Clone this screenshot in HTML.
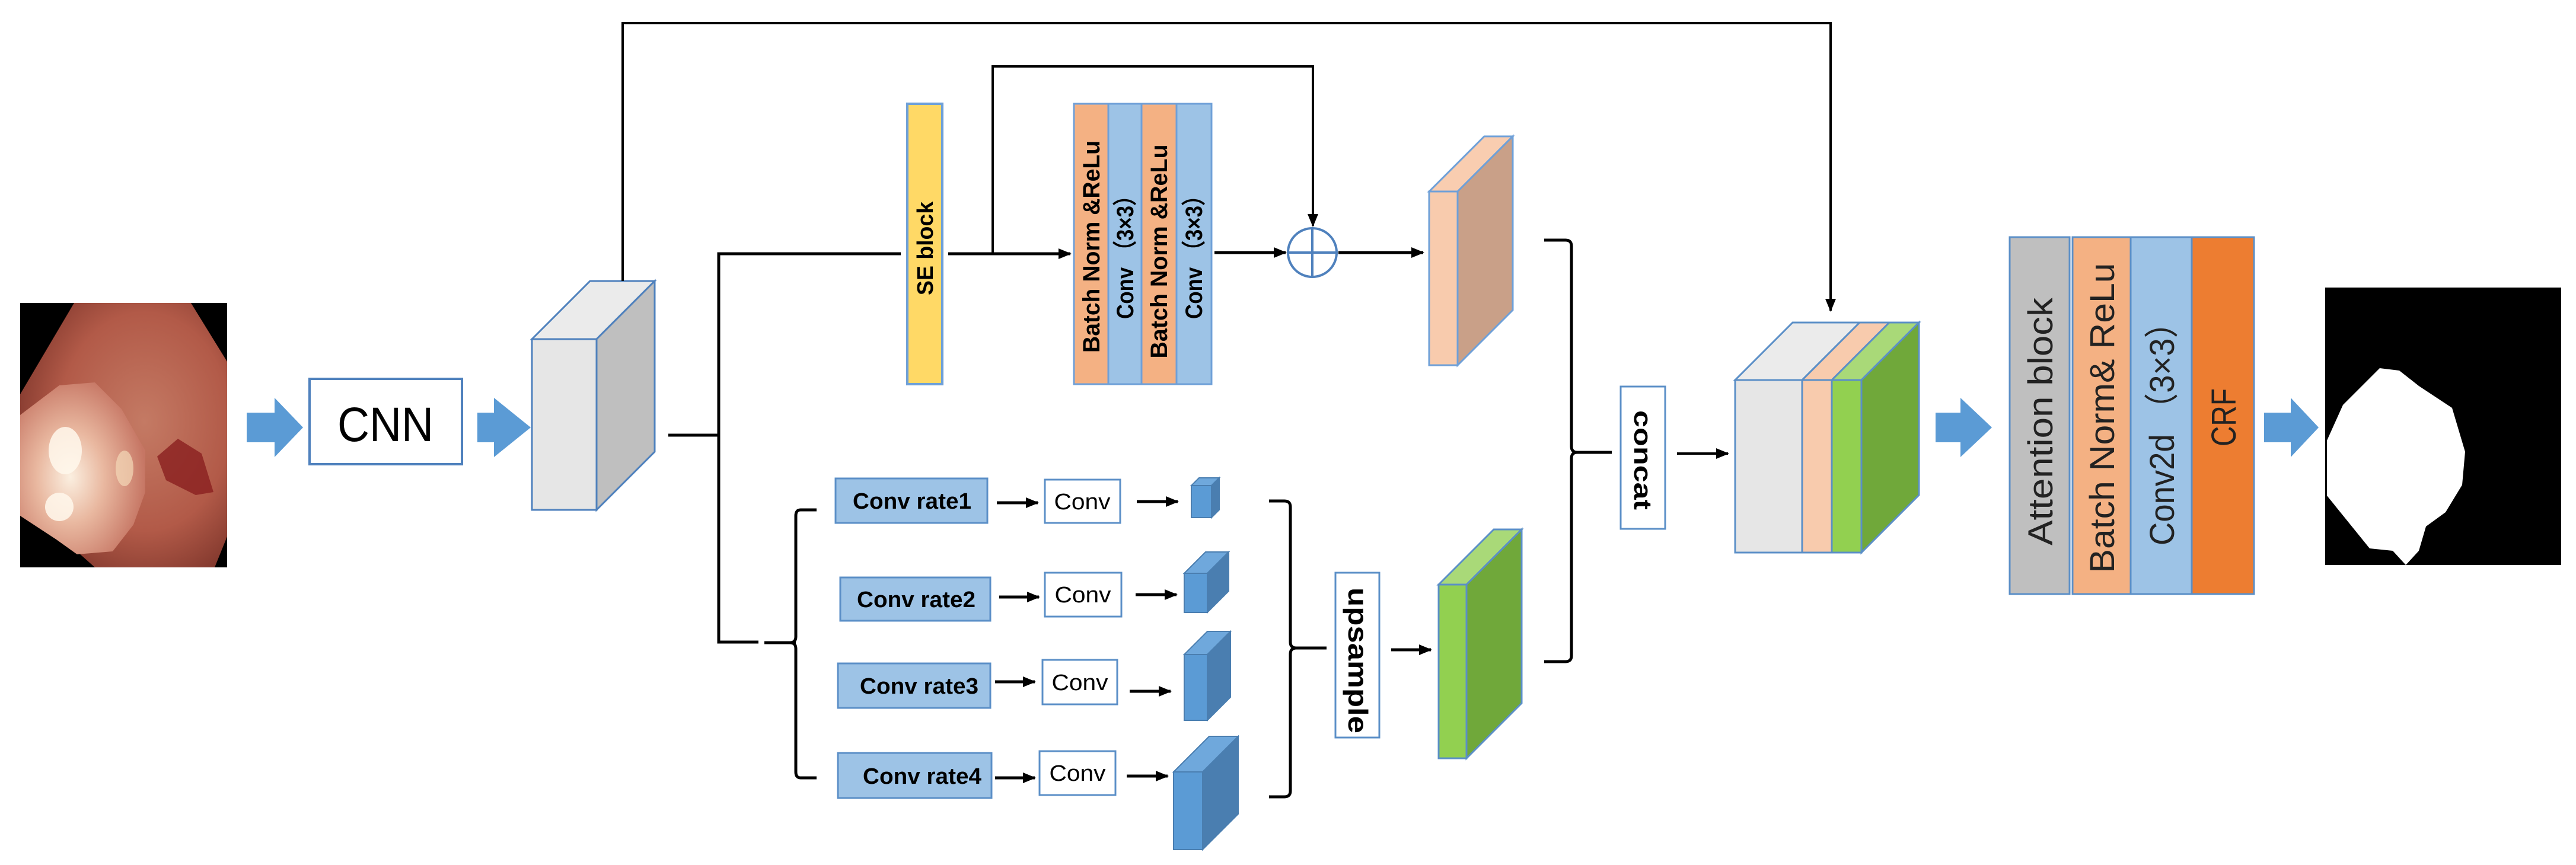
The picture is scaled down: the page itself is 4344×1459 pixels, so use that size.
<!DOCTYPE html>
<html><head><meta charset="utf-8">
<style>
html,body{margin:0;padding:0;background:#fff;}
svg{display:block;}
text{font-family:"Liberation Sans",sans-serif;}
</style></head>
<body>
<svg width="4344" height="1459" viewBox="0 0 4344 1459" xmlns="http://www.w3.org/2000/svg">
<defs>
<marker id="ah2" markerWidth="22" markerHeight="18" refX="20" refY="9" orient="auto" markerUnits="userSpaceOnUse">
<path d="M0,0 L22,9 L0,18 z" fill="#000"/>
</marker>
<radialGradient id="tis" cx="0.6" cy="0.45" r="0.75">
<stop offset="0" stop-color="#c47a64"/><stop offset="0.55" stop-color="#b25a48"/><stop offset="1" stop-color="#6e2a22"/>
</radialGradient>
<radialGradient id="pol" cx="0.4" cy="0.55" r="0.6">
<stop offset="0" stop-color="#fbefe0"/><stop offset="0.45" stop-color="#e9b8a0"/><stop offset="1" stop-color="#c67664"/>
</radialGradient>
</defs>

<!-- photo -->
<rect x="34" y="511" width="349" height="446" fill="#000"/>
<polygon points="125,511 322,511 383,610 383,905 362,957 160,957 34,845 34,665" fill="url(#tis)"/>
<polygon points="34,700 100,650 160,645 205,690 245,760 245,830 225,885 190,930 130,935 95,910 34,870" fill="url(#pol)"/>
<ellipse cx="110" cy="760" rx="28" ry="40" fill="#fff8ec" opacity="0.85"/>
<ellipse cx="100" cy="855" rx="24" ry="24" fill="#fff8ec" opacity="0.85"/>
<ellipse cx="210" cy="790" rx="15" ry="30" fill="#f3d9b8" opacity="0.7"/>
<path d="M265,770 L300,740 L340,765 L360,830 L330,835 L300,820 L280,810 Z" fill="#8a1f1f" opacity="0.8"/>

<!-- blue arrow 1 -->
<polygon points="416,696 463,696 463,671 511,721 463,771 463,746 416,746" fill="#5b9bd5"/>
<rect x="522" y="639" width="257" height="144" fill="#fff" stroke="#4f81bd" stroke-width="4"/>
<text x="650" y="744" font-size="82" text-anchor="middle" textLength="162" lengthAdjust="spacingAndGlyphs">CNN</text>
<polygon points="805,696 833,696 833,671 895,721 833,771 833,746 805,746" fill="#5b9bd5"/>

<!-- cube1 -->
<g stroke="#4f81bd" stroke-width="3">
<polygon points="897,572 995,474 1104,474 1006,572" fill="#ebebeb"/>
<polygon points="1006,572 1104,474 1104,762 1006,860" fill="#bfbfbf"/>
<rect x="897" y="572" width="109" height="288" fill="#e6e6e6"/>
</g>

<!-- black connectors -->
<g stroke="#000" stroke-width="5" fill="none">
<polyline points="1050,474 1050,39 3087,39 3087,524" stroke-width="4" marker-end="url(#ah2)"/>
<polyline points="1127,734 1212,734"/>
<polyline points="1519,428 1212,428 1212,1083 1279,1083"/>
<polyline points="1289,1084 1342,1084"/>
<path d="M1377,860 L1350,860 Q1342,860 1342,870 L1342,1074 Q1342,1084 1332,1084 Q1342,1084 1342,1094 L1342,1302 Q1342,1312 1350,1312 L1377,1312"/>
<line x1="1599" y1="428" x2="1805" y2="428" marker-end="url(#ah2)"/>
<polyline points="1674,428 1674,112 2214,112 2214,381" stroke-width="4" marker-end="url(#ah2)"/>
<line x1="2048" y1="426" x2="2168" y2="426" marker-end="url(#ah2)"/>
<line x1="2257" y1="426" x2="2400" y2="426" marker-end="url(#ah2)"/>
<path d="M2604,405 L2640,405 Q2650,405 2650,415 L2650,753 Q2650,763 2660,763 L2718,763 M2660,763 Q2650,763 2650,773 L2650,1106 Q2650,1116 2640,1116 L2604,1116"/>
<path d="M2140,845 L2166,845 Q2176,845 2176,855 L2176,1083 Q2176,1093 2186,1093 L2237,1093 M2186,1093 Q2176,1093 2176,1103 L2176,1334 Q2176,1344 2166,1344 L2140,1344"/>
<line x1="2828" y1="765" x2="2914" y2="765" stroke-width="4" marker-end="url(#ah2)"/>
<line x1="2346" y1="1096" x2="2413" y2="1096" marker-end="url(#ah2)"/>
<line x1="1681" y1="848" x2="1750" y2="848" marker-end="url(#ah2)"/>
<line x1="1685" y1="1007" x2="1752" y2="1007" marker-end="url(#ah2)"/>
<line x1="1678" y1="1150" x2="1745" y2="1150" marker-end="url(#ah2)"/>
<line x1="1678" y1="1312" x2="1745" y2="1312" marker-end="url(#ah2)"/>
<line x1="1917" y1="846" x2="1986" y2="846" marker-end="url(#ah2)"/>
<line x1="1915" y1="1003" x2="1984" y2="1003" marker-end="url(#ah2)"/>
<line x1="1905" y1="1166" x2="1974" y2="1166" marker-end="url(#ah2)"/>
<line x1="1900" y1="1309" x2="1969" y2="1309" marker-end="url(#ah2)"/>
</g>

<circle cx="2213" cy="426" r="41" fill="#fff" stroke="#4f81bd" stroke-width="4"/>
<line x1="2172" y1="426" x2="2254" y2="426" stroke="#4f81bd" stroke-width="4"/>
<line x1="2213" y1="385" x2="2213" y2="467" stroke="#4f81bd" stroke-width="4"/>

<rect x="1530" y="175" width="59" height="473" fill="#ffd966" stroke="#6fa0d8" stroke-width="4"/>
<text transform="translate(1573,419) rotate(-90)" font-size="38" font-weight="bold" text-anchor="middle" textLength="158" lengthAdjust="spacingAndGlyphs">SE block</text>

<g stroke="#6fa0d8" stroke-width="3">
<rect x="1811" y="175" width="58" height="473" fill="#f4b183"/>
<rect x="1869" y="175" width="56" height="473" fill="#9dc3e6"/>
<rect x="1925" y="175" width="59" height="473" fill="#f4b183"/>
<rect x="1984" y="175" width="59" height="473" fill="#9dc3e6"/>
</g>
<g font-size="40" font-weight="bold" text-anchor="middle">
<text transform="translate(1854,416) rotate(-90)" textLength="358" lengthAdjust="spacingAndGlyphs">Batch Norm &amp;ReLu</text>
<text transform="translate(1911,425) rotate(-90)" textLength="226" lengthAdjust="spacingAndGlyphs">Conv （3×3）</text>
<text transform="translate(1968,424) rotate(-90)" textLength="361" lengthAdjust="spacingAndGlyphs">Batch Norm &amp;ReLu</text>
<text transform="translate(2027,425) rotate(-90)" textLength="226" lengthAdjust="spacingAndGlyphs">Conv （3×3）</text>
</g>

<g stroke="#6fa0d8" stroke-width="3">
<polygon points="2410,323 2503,230 2551,230 2458,323" fill="#f9cdb0"/>
<polygon points="2458,323 2551,230 2551,523 2458,616" fill="#c9a088"/>
<rect x="2410" y="323" width="48" height="293" fill="#f8cbad"/>
</g>

<g fill="#9dc3e6" stroke="#5b8fc7" stroke-width="3">
<rect x="1409" y="807" width="256" height="75"/>
<rect x="1417" y="974" width="253" height="73"/>
<rect x="1413" y="1119" width="257" height="75"/>
<rect x="1413" y="1270" width="259" height="76"/>
</g>
<g fill="#fff" stroke="#5b8fc7" stroke-width="3">
<rect x="1762" y="809" width="127" height="73"/>
<rect x="1762" y="966" width="129" height="74"/>
<rect x="1758" y="1113" width="126" height="75"/>
<rect x="1753" y="1267" width="128" height="74"/>
</g>
<g font-size="38" font-weight="bold" text-anchor="middle">
<text x="1538" y="858" textLength="200" lengthAdjust="spacingAndGlyphs">Conv rate1</text>
<text x="1545" y="1024" textLength="200" lengthAdjust="spacingAndGlyphs">Conv rate2</text>
<text x="1550" y="1170" textLength="200" lengthAdjust="spacingAndGlyphs">Conv rate3</text>
<text x="1555" y="1322" textLength="200" lengthAdjust="spacingAndGlyphs">Conv rate4</text>
</g>
<g font-size="38" text-anchor="middle">
<text x="1825" y="859" textLength="95" lengthAdjust="spacingAndGlyphs">Conv</text>
<text x="1826" y="1016" textLength="95" lengthAdjust="spacingAndGlyphs">Conv</text>
<text x="1821" y="1164" textLength="95" lengthAdjust="spacingAndGlyphs">Conv</text>
<text x="1817" y="1317" textLength="95" lengthAdjust="spacingAndGlyphs">Conv</text>
</g>

<g stroke="#4a7eb0" stroke-width="2">
<polygon points="2009,819 2022,806 2056,806 2043,819" fill="#6fa8dc"/>
<polygon points="2043,819 2056,806 2056,860 2043,873" fill="#4a7eb0"/>
<rect x="2009" y="819" width="34" height="54" fill="#5b9bd5"/>
<polygon points="1997,967 2033,931 2072,931 2036,967" fill="#6fa8dc"/>
<polygon points="2036,967 2072,931 2072,997 2036,1033" fill="#4a7eb0"/>
<rect x="1997" y="967" width="39" height="66" fill="#5b9bd5"/>
<polygon points="1997,1104 2036,1065 2075,1065 2036,1104" fill="#6fa8dc"/>
<polygon points="2036,1104 2075,1065 2075,1176 2036,1215" fill="#4a7eb0"/>
<rect x="1997" y="1104" width="39" height="111" fill="#5b9bd5"/>
<polygon points="1979,1302 2039,1242 2088,1242 2028,1302" fill="#6fa8dc"/>
<polygon points="2028,1302 2088,1242 2088,1373 2028,1433" fill="#4a7eb0"/>
<rect x="1979" y="1302" width="49" height="131" fill="#5b9bd5"/>
</g>

<rect x="2252" y="966" width="74" height="278" fill="#fff" stroke="#5b8fc7" stroke-width="3"/>
<text transform="translate(2274,1114) rotate(90)" font-size="46" font-weight="bold" text-anchor="middle" textLength="246" lengthAdjust="spacingAndGlyphs">upsample</text>

<g stroke="#5b8fc7" stroke-width="3">
<polygon points="2426,986 2519,893 2566,893 2473,986" fill="#a9d978"/>
<polygon points="2473,986 2566,893 2566,1186 2473,1279" fill="#70a83a"/>
<rect x="2426" y="986" width="47" height="293" fill="#92d050"/>
</g>

<rect x="2733" y="652" width="75" height="240" fill="#fff" stroke="#5b8fc7" stroke-width="3"/>
<text transform="translate(2756,776) rotate(90)" font-size="42" font-weight="bold" text-anchor="middle" textLength="168" lengthAdjust="spacingAndGlyphs">concat</text>

<g stroke="#5b8fc7" stroke-width="3">
<polygon points="2926,641 3023,544 3136,544 3039,641" fill="#ebebeb"/>
<polygon points="3039,641 3136,544 3186,544 3089,641" fill="#f8cbad"/>
<polygon points="3089,641 3186,544 3236,544 3139,641" fill="#a9d978"/>
<polygon points="3139,641 3236,544 3236,835 3139,932" fill="#70a83a"/>
<rect x="2926" y="641" width="113" height="291" fill="#e6e6e6"/>
<rect x="3039" y="641" width="50" height="291" fill="#f8cbad"/>
<rect x="3089" y="641" width="50" height="291" fill="#92d050"/>
</g>

<polygon points="3264,696 3306,696 3306,671 3359,721 3306,771 3306,746 3264,746" fill="#5b9bd5"/>
<polygon points="3818,696 3863,696 3863,671 3910,721 3863,771 3863,746 3818,746" fill="#5b9bd5"/>

<g stroke="#5b8fc7" stroke-width="3">
<rect x="3389" y="400" width="101" height="602" fill="#bfbfbf"/>
<rect x="3495" y="400" width="98" height="602" fill="#f4b183"/>
<rect x="3593" y="400" width="103" height="602" fill="#9dc3e6"/>
<rect x="3696" y="400" width="105" height="602" fill="#ed7d31"/>
</g>
<g font-size="58" text-anchor="middle" fill="#222">
<text transform="translate(3461,711) rotate(-90)" textLength="418" lengthAdjust="spacingAndGlyphs">Attention block</text>
<text transform="translate(3565,705) rotate(-90)" textLength="523" lengthAdjust="spacingAndGlyphs">Batch Norm&amp; ReLu</text>
<text transform="translate(3666,718) rotate(-90)" textLength="404" lengthAdjust="spacingAndGlyphs">Conv2d （3×3）</text>
<text transform="translate(3770,704) rotate(-90)" textLength="98" lengthAdjust="spacingAndGlyphs">CRF</text>
</g>

<rect x="3921" y="485" width="398" height="468" fill="#000"/>
<polygon points="3924,743 3951,683 4013,621 4046,625 4079,651 4135,688 4157,762 4152,818 4124,864 4091,888 4079,929 4057,953 4035,929 3996,925 3924,836" fill="#fff"/>
</svg>
</body></html>
